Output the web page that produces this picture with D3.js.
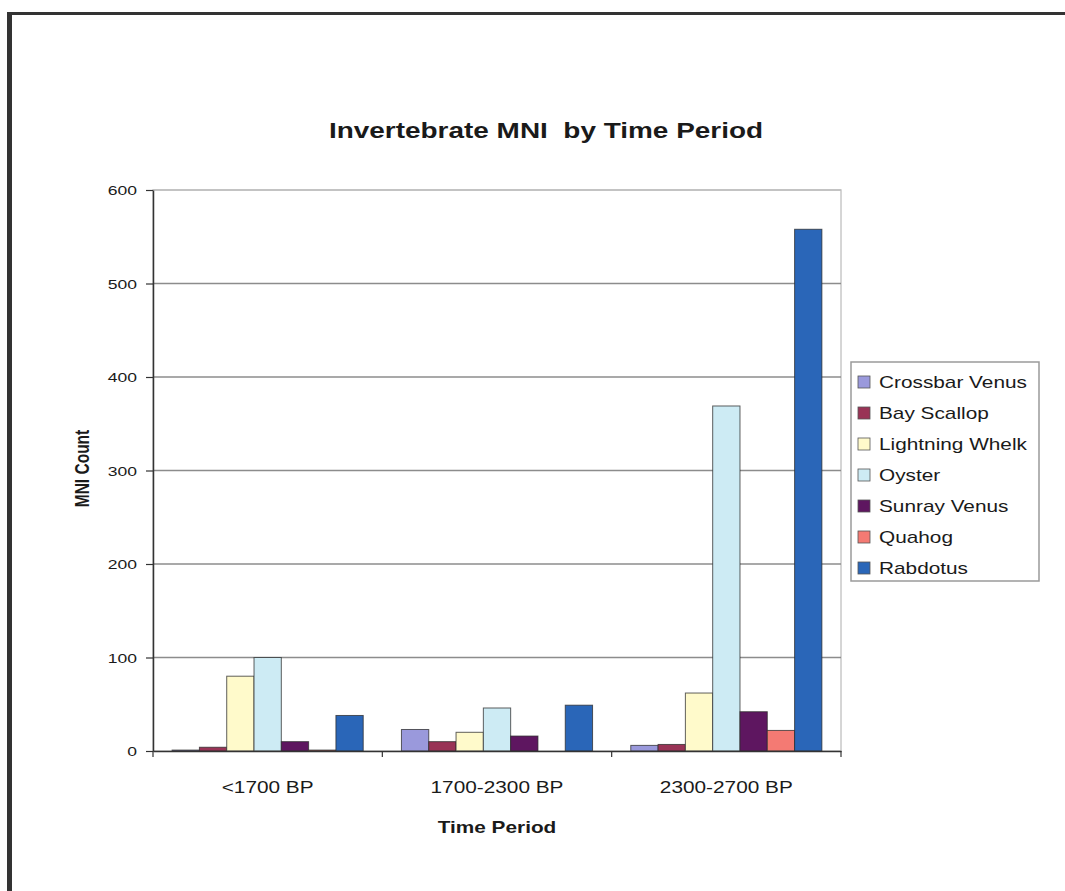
<!DOCTYPE html>
<html>
<head>
<meta charset="utf-8">
<script src="https://cdn.jsdelivr.net/npm/d3@7"></script>
<style>
  body { margin: 0; background: #fff; }
  svg { display: block; }
  text { font-family: "Liberation Sans", Arial, sans-serif; fill: #1a1a1a; white-space: pre; }
</style>
</head>
<body>
<div id="chart"></div>
<script>
// chart values
const periods = ["<1700 BP", "1700-2300 BP", "2300-2700 BP"];
const species = ["Crossbar Venus", "Bay Scallop", "Lightning Whelk", "Oyster", "Sunray Venus", "Quahog", "Rabdotus"];
const crossbarVenus = [1, 23, 6];
const bayScallop = [4, 10, 7];
const lightningWhelk = [80, 20, 62];
const oyster = [100, 46, 369];
const sunrayVenus = [10, 16, 42];
const quahog = [1, 0, 22];
const rabdotus = [38, 49, 558];
const yTicks = [0, 100, 200, 300, 400, 500, 600];
const colors = ["#9a99dc", "#993356", "#fffacb", "#cdebf4", "#5e1660", "#f47a73", "#2a66b8"];

const seriesValues = [crossbarVenus, bayScallop, lightningWhelk, oyster, sunrayVenus, quahog, rabdotus];

const W = 1065, H = 891;
const margin = {top: 190, right: 224, bottom: 140, left: 153};
const visWidth = W - margin.left - margin.right;
const visHeight = H - margin.top - margin.bottom;
const sx = 1.3; // picture is stretched sideways

const svg = d3.select("#chart").append("svg").attr("width", W).attr("height", H);

// outer frame (only top and left edges show)
svg.append("line").attr("x1", 7).attr("x2", W).attr("y1", 13.5).attr("y2", 13.5)
  .attr("stroke", "#333").attr("stroke-width", 3);
svg.append("line").attr("x1", 9.5).attr("x2", 9.5).attr("y1", 12).attr("y2", H)
  .attr("stroke", "#333").attr("stroke-width", 5);

function stretchedText(parent, x, y, str, size, weight, anchor) {
  return parent.append("text")
    .attr("transform", `translate(${x},${y}) scale(${sx},1)`)
    .attr("text-anchor", anchor || "middle")
    .attr("font-size", size)
    .attr("font-weight", weight || "normal")
    .text(str);
}

stretchedText(svg, 546, 138, "Invertebrate MNI  by Time Period", 21.5, "bold");

const g = svg.append("g").attr("transform", `translate(${margin.left}, ${margin.top})`);

const y = d3.scaleLinear().domain([0, 600]).range([visHeight, 0]);
const x0 = d3.scaleBand().domain(periods).range([0, visWidth]).padding(0);
const x1 = d3.scaleBand().domain(species).range([0, x0.bandwidth()]).paddingInner(0).paddingOuter(0.7);

// plot area border
g.append("rect").attr("x", 0).attr("y", 0).attr("width", visWidth).attr("height", visHeight)
  .attr("fill", "none").attr("stroke", "#c8c8c8").attr("stroke-width", 1.5);

// gridlines
g.selectAll(".grid").data(yTicks.filter(d => d > 0)).join("line")
  .attr("x1", 0).attr("x2", visWidth)
  .attr("y1", d => y(d)).attr("y2", d => y(d))
  .attr("stroke", d => d === 600 ? "#bdbdbd" : "#8c8c8c").attr("stroke-width", 1.5);

// bars
const groups = g.selectAll(".period").data(periods).join("g")
  .attr("transform", d => `translate(${x0(d)},0)`);

groups.selectAll("rect")
  .data((p, i) => species.map((s, j) => ({species: s, value: seriesValues[j][i], color: colors[j]})))
  .join("rect")
    .attr("x", d => x1(d.species))
    .attr("width", x1.bandwidth())
    .attr("y", d => y(d.value))
    .attr("height", d => visHeight - y(d.value))
    .attr("fill", d => d.color)
    .attr("stroke", "#2b2b2b")
    .attr("stroke-opacity", 0.75)
    .attr("stroke-width", 1);

// y axis
const yAxis = d3.axisLeft(y).tickValues(yTicks).tickSize(7).tickSizeOuter(0).tickFormat(d => "");
const ya = g.append("g").call(yAxis);
ya.select(".domain").attr("stroke", "#333").attr("stroke-width", 1.5);
ya.selectAll(".tick line").attr("stroke", "#333").attr("stroke-width", 1.2);
yTicks.forEach(t => stretchedText(g, -16, y(t) + 5, String(t), 13.5, "normal", "end"));

// x axis
const xa = g.append("g").attr("transform", `translate(0,${visHeight})`)
  .call(d3.axisBottom(x0).tickSize(0).tickFormat(d => ""));
xa.select(".domain").attr("stroke", "#333").attr("stroke-width", 1.5);
g.selectAll(".xtick").data(periods.map(p => x0(p) + x0.bandwidth()).concat([0])).join("line")
  .attr("x1", d => d).attr("x2", d => d)
  .attr("y1", visHeight).attr("y2", visHeight + 6)
  .attr("stroke", "#333").attr("stroke-width", 1.2);
periods.forEach(p => stretchedText(g, x0(p) + x0.bandwidth() / 2, visHeight + 42, p, 16));

// axis titles
stretchedText(g, x0.bandwidth() * 1.5, visHeight + 82, "Time Period", 16, "bold");
g.append("text")
  .attr("transform", `translate(-64,${visHeight / 2 - 2}) rotate(-90) scale(1,${sx})`)
  .attr("text-anchor", "middle").attr("font-size", 15.5).attr("font-weight", "bold")
  .text("MNI Count");

// legend
const legend = svg.append("g").attr("transform", "translate(851,362)");
legend.append("rect").attr("width", 188).attr("height", 219)
  .attr("fill", "#fff").attr("stroke", "#9a9a9a").attr("stroke-width", 1.5);
species.forEach((s, i) => {
  const ly = 20 + i * 31;
  legend.append("rect").attr("x", 7).attr("y", ly - 6).attr("width", 12).attr("height", 12)
    .attr("fill", colors[i]).attr("stroke", "#555").attr("stroke-width", 0.8);
  stretchedText(legend, 28, ly + 6, s, 16, "normal", "start");
});
</script>
</body>
</html>
